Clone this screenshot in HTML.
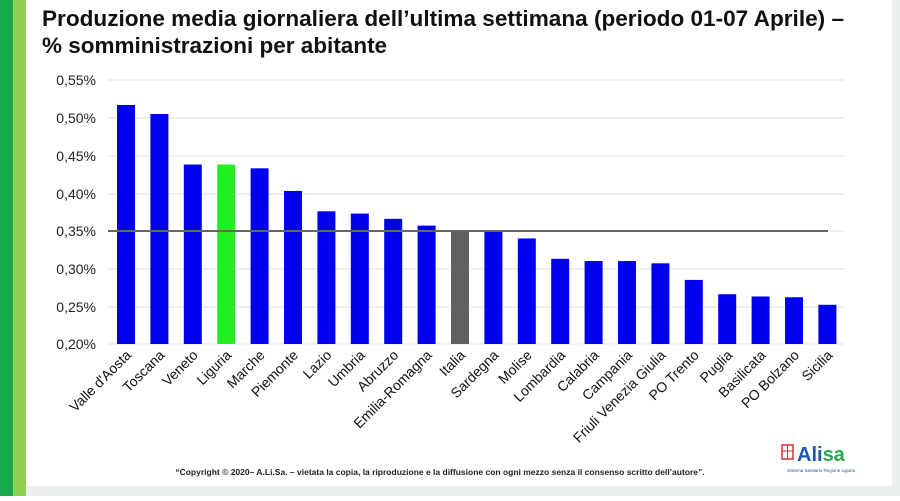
<!DOCTYPE html>
<html><head><meta charset="utf-8"><style>
body{margin:0;width:900px;height:496px;background:#fff;overflow:hidden;font-family:"Liberation Sans",sans-serif}
</style></head><body>
<svg width="900" height="496" xmlns="http://www.w3.org/2000/svg" font-family="Liberation Sans, sans-serif">
<rect x="0" y="0" width="900" height="496" fill="#fff"/>
<rect x="0" y="0" width="13" height="496" fill="#16a84c"/>
<rect x="13" y="0" width="13" height="496" fill="#8fcf54"/>
<rect x="892" y="0" width="8" height="496" fill="#eceff0"/>
<rect x="26" y="486" width="874" height="10" fill="#eceff0"/>
<text x="42" y="26" font-size="22.5" font-weight="bold" fill="#111" textLength="802" lengthAdjust="spacingAndGlyphs">Produzione media giornaliera dell’ultima settimana (periodo 01-07 Aprile) –</text>
<text x="42" y="53" font-size="22.5" font-weight="bold" fill="#111">% somministrazioni per abitante</text>
<g stroke="#e0e0e0" stroke-width="1">
<line x1="108" x2="845" y1="80" y2="80"/><line x1="108" x2="845" y1="118" y2="118"/><line x1="108" x2="845" y1="156" y2="156"/><line x1="108" x2="845" y1="194" y2="194"/><line x1="108" x2="845" y1="231" y2="231"/><line x1="108" x2="845" y1="269" y2="269"/><line x1="108" x2="845" y1="307" y2="307"/><line x1="108" x2="845" y1="344" y2="344"/>
</g>
<g font-size="14" fill="#222" text-anchor="end">
<text x="96" y="85">0,55%</text><text x="96" y="123">0,50%</text><text x="96" y="161">0,45%</text><text x="96" y="199">0,40%</text><text x="96" y="236">0,35%</text><text x="96" y="274">0,30%</text><text x="96" y="312">0,25%</text><text x="96" y="349">0,20%</text>
</g>
<g id="bars"></g>
<line x1="108" x2="828" y1="231" y2="231" stroke="#666" stroke-width="2"/>
<g id="labels" font-size="14" fill="#111" text-anchor="end"></g>
<text x="440" y="475" font-size="8.5" font-weight="bold" text-anchor="middle" fill="#222">“Copyright © 2020– A.Li.Sa. – vietata la copia, la riproduzione e la diffusione con ogni mezzo senza il consenso scritto dell’autore”.</text>
<rect x="782" y="445" width="11" height="14" fill="#fff" stroke="#c33" stroke-width="1.5"/>
<line x1="787.5" y1="445" x2="787.5" y2="459" stroke="#c33"/><line x1="782" y1="451" x2="793" y2="451" stroke="#c33"/>
<text x="797" y="461" font-size="20" font-weight="bold" fill="#1a5aa8">Ali<tspan fill="#2aa84a">sa</tspan></text>
<text x="821" y="472" font-size="4.5" fill="#1a5aa8" text-anchor="middle">Sistema Sanitario Regione Liguria</text>
</svg>
<script>
var names=["Valle d'Aosta","Toscana","Veneto","Liguria","Marche","Piemonte","Lazio","Umbria","Abruzzo","Emilia-Romagna","Italia","Sardegna","Molise","Lombardia","Calabria","Campania","Friuli Venezia Giulia","PO Trento","Puglia","Basilicata","PO Bolzano","Sicilia"];
var v=[0.517,0.505,0.438,0.438,0.433,0.403,0.376,0.373,0.366,0.357,0.351,0.349,0.340,0.313,0.310,0.310,0.307,0.285,0.266,0.263,0.262,0.252];
var b=document.getElementById('bars'),l=document.getElementById('labels'),ns="http://www.w3.org/2000/svg";
for(var i=0;i<22;i++){var c=126+i*33.4,y=344-(v[i]-0.2)/0.05*37.7;
var r=document.createElementNS(ns,'rect');r.setAttribute('x',c-9);r.setAttribute('y',y);r.setAttribute('width',18);r.setAttribute('height',344-y);
r.setAttribute('fill',i==3?'#22ee22':i==10?'#606060':'#0000ee');b.appendChild(r);
var t=document.createElementNS(ns,'text');t.setAttribute('transform','translate('+(c+6)+',356) rotate(-45)');t.textContent=names[i];l.appendChild(t);}
</script>
</body></html>
